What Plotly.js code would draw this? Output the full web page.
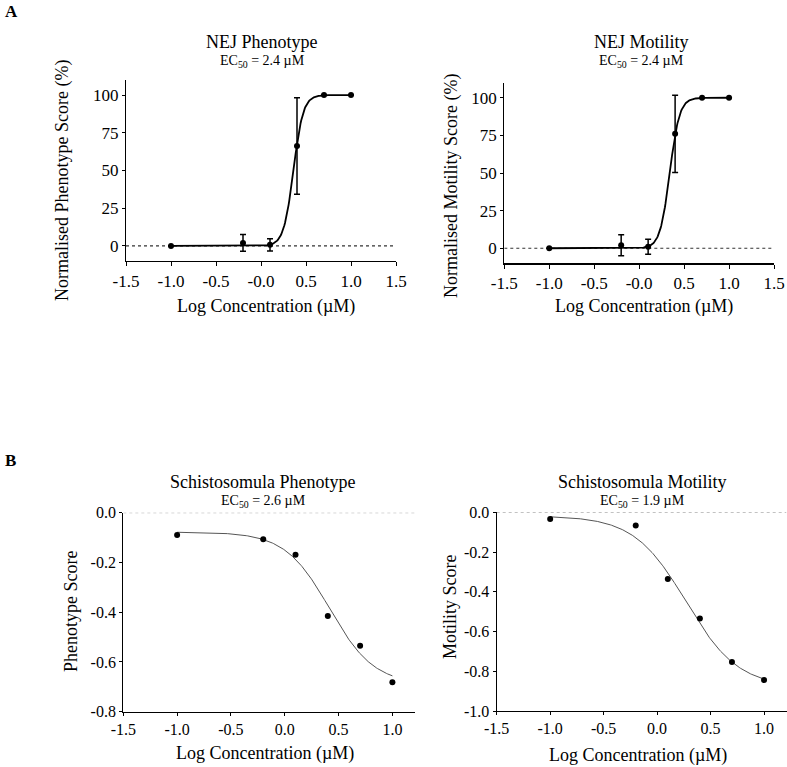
<!DOCTYPE html>
<html>
<head>
<meta charset="utf-8">
<script src="https://cdn.plot.ly/plotly-3.0.1.min.js"></script>
<style>html,body{margin:0;padding:0;background:#fff;}#chart{width:787px;height:767px;}</style>
</head>
<body>
<div id="chart"></div>
<script>
// ---------- data ----------
const logConc = [-1.0, -0.2, 0.1, 0.4, 0.7, 1.0];

const nejPhenotype    = [0, 2.0, 0.7, 66.3, 100, 100];
const nejPhenotypeErr = [0, 5.5, 4.0, 32.0, 0, 0];
const nejMotility     = [0, 2.0, 1.0, 76.0, 100, 100];
const nejMotilityErr  = [0, 7.0, 5.0, 25.6, 0, 0];

const schPhenotype = [-0.090, -0.107, -0.169, -0.415, -0.535, -0.682];
const schMotility  = [-0.034, -0.067, -0.336, -0.535, -0.753, -0.844];

// fitted dose-response (4PL) parameters: value at low dose, value at high dose, logEC50, Hill slope
const nejPhenotypeFit = {low: 0, high: 100, logEC50: 0.36, hill: 8};
const nejMotilityFit  = {low: 0, high: 100, logEC50: 0.34, hill: 8};
const schPhenotypeFit = {low: -0.078, high: -0.69, logEC50: 0.415, hill: 2.1};
const schMotilityFit  = {low: -0.018, high: -0.88, logEC50: 0.27, hill: 1.78};

const xTicksA = [-1.5, -1.0, -0.5, 0, 0.5, 1.0, 1.5];
const xTickTextA = ['-1.5', '-1.0', '-0.5', '-0.0', '0.5', '1.0', '1.5'];
const xTicksB = [-1.5, -1.0, -0.5, 0, 0.5, 1.0];
const xTickTextB = ['-1.5', '-1.0', '-0.5', '0.0', '0.5', '1.0'];
const yTicksA = [0, 25, 50, 75, 100];
const yTicksBL = [0, -0.2, -0.4, -0.6, -0.8];
const yTickTextBL = ['0.0', '-0.2', '-0.4', '-0.6', '-0.8'];
const yTicksBR = [0, -0.2, -0.4, -0.6, -0.8, -1.0];
const yTickTextBR = ['0.0', '-0.2', '-0.4', '-0.6', '-0.8', '-1.0'];

// ---------- helpers ----------
const W = 787, H = 767;
const px = x => x / W;
const py = y => 1 - y / H;
function fitCurve(p, x0, x1, n) {
  const xs = [], ys = [];
  for (let i = 0; i <= n; i++) {
    const x = x0 + (x1 - x0) * i / n;
    xs.push(x);
    ys.push(p.low + (p.high - p.low) / (1 + Math.pow(10, (p.logEC50 - x) * p.hill)));
  }
  return {xs, ys};
}
const FONT = 'Liberation Serif';

const cA1 = fitCurve(nejPhenotypeFit, -1, 1, 300);
const cA2 = fitCurve(nejMotilityFit, -1, 1, 300);
const cB1 = fitCurve(schPhenotypeFit, -1, 1, 300);
const cB2 = fitCurve(schMotilityFit, -1, 1, 300);

const curveA = {color: '#000', width: 1.8};
const curveB = {color: '#555', width: 1};
const errStyle = {type: 'data', visible: true, color: '#000', thickness: 1.5, width: 3};

const traces = [
  {x: cA1.xs, y: cA1.ys, mode: 'lines', line: curveA, xaxis: 'x', yaxis: 'y', hoverinfo: 'skip'},
  {x: logConc, y: nejPhenotype, mode: 'markers', marker: {color: '#000', size: 6},
   error_y: Object.assign({array: nejPhenotypeErr}, errStyle), xaxis: 'x', yaxis: 'y'},
  {x: cA2.xs, y: cA2.ys, mode: 'lines', line: curveA, xaxis: 'x2', yaxis: 'y2', hoverinfo: 'skip'},
  {x: logConc, y: nejMotility, mode: 'markers', marker: {color: '#000', size: 6},
   error_y: Object.assign({array: nejMotilityErr}, errStyle), xaxis: 'x2', yaxis: 'y2'},
  {x: cB1.xs, y: cB1.ys, mode: 'lines', line: curveB, xaxis: 'x3', yaxis: 'y3', hoverinfo: 'skip'},
  {x: logConc, y: schPhenotype, mode: 'markers', marker: {color: '#000', size: 6}, xaxis: 'x3', yaxis: 'y3'},
  {x: cB2.xs, y: cB2.ys, mode: 'lines', line: curveB, xaxis: 'x4', yaxis: 'y4', hoverinfo: 'skip'},
  {x: logConc, y: schMotility, mode: 'markers', marker: {color: '#000', size: 6}, xaxis: 'x4', yaxis: 'y4'}
];

function axis(domain, anchor, range, vals, text, fs, tl) {
  return {domain: domain, anchor: anchor, range: range, autorange: false,
    tickmode: 'array', tickvals: vals, ticktext: text,
    showline: true, linecolor: '#000', linewidth: 1.2, ticks: 'outside', ticklen: tl, tickwidth: 1,
    tickcolor: '#000', showgrid: false, zeroline: false, mirror: false,
    tickfont: {family: FONT, size: fs, color: '#000'}};
}

function ann(text, x, y, size, opts) {
  return Object.assign({text: text, x: px(x), y: py(y), xref: 'paper', yref: 'paper',
    xanchor: 'center', yanchor: 'middle', showarrow: false,
    font: {family: FONT, size: size, color: '#000'}}, opts || {});
}

const layout = {
  width: W, height: H,
  margin: {l: 0, r: 0, t: 0, b: 0},
  font: {family: FONT, size: 17, color: '#000'},
  paper_bgcolor: '#fff', plot_bgcolor: '#fff',
  showlegend: false,
  xaxis:  axis([px(126), px(396)], 'y',  [-1.5, 1.5], xTicksA, xTickTextA, 17, 4),
  yaxis:  axis([py(261), py(80)],  'x',  [-10, 110], yTicksA, yTicksA.map(String), 17, 3),
  xaxis2: axis([px(504.3), px(774)], 'y2', [-1.5, 1.5], xTicksA, xTickTextA, 17, 4),
  yaxis2: axis([py(263.3), py(82.7)], 'x2', [-10, 110], yTicksA, yTicksA.map(String), 17, 3),
  xaxis3: axis([px(123.3), px(415)], 'y3', [-1.5, 1.21], xTicksB, xTickTextB, 16, 3),
  yaxis3: axis([py(711.7), py(512.7)], 'x3', [-0.8, 0], yTicksBL, yTickTextBL, 16, 3),
  xaxis4: axis([px(496.7), px(786.5)], 'y4', [-1.5, 1.21], xTicksB, xTickTextB, 16, 3),
  yaxis4: axis([py(711), py(512.3)], 'x4', [-1.0, 0], yTicksBR, yTickTextBR, 16, 3),
  shapes: [
    {type: 'line', xref: 'x', yref: 'y', x0: -1.5, x1: 1.5, y0: 0, y1: 0, layer: 'below',
     line: {color: '#333', width: 1.2, dash: 'dot'}},
    {type: 'line', xref: 'x2', yref: 'y2', x0: -1.5, x1: 1.5, y0: 0, y1: 0, layer: 'below',
     line: {color: '#333', width: 1.2, dash: 'dot'}},
    {type: 'line', xref: 'x3', yref: 'y3', x0: -1.5, x1: 1.21, y0: 0, y1: 0, layer: 'above',
     line: {color: '#999', width: 1, dash: 'dot'}},
    {type: 'line', xref: 'x4', yref: 'y4', x0: -1.5, x1: 1.21, y0: 0, y1: 0, layer: 'above',
     line: {color: '#999', width: 1, dash: 'dot'}}
  ],
  annotations: [
    ann('<b>A</b>', 3, 11.5, 17, {xanchor: 'left'}),
    ann('<b>B</b>', 3, 460, 17, {xanchor: 'left'}),
    ann('NEJ Phenotype', 262, 42, 18),
    ann('EC<sub>50</sub> = 2.4 µM', 262, 62, 14),
    ann('NEJ Motility', 641, 42, 18),
    ann('EC<sub>50</sub> = 2.4 µM', 641, 62, 14),
    ann('Schistosomula Phenotype', 263, 482, 18),
    ann('EC<sub>50</sub> = 2.6 µM', 263, 501, 14),
    ann('Schistosomula Motility', 642, 482, 18),
    ann('EC<sub>50</sub> = 1.9 µM', 642, 501, 14),
    ann('Normalised Phenotype Score (%)', 63, 181, 18, {textangle: -90}),
    ann('Normalised Motility Score (%)', 451, 186, 18, {textangle: -90}),
    ann('Phenotype Score', 71, 612, 18, {textangle: -90}),
    ann('Motility Score', 450, 606, 18, {textangle: -90}),
    ann('Log Concentration (µM)', 266, 306, 18),
    ann('Log Concentration (µM)', 644, 306, 18),
    ann('Log Concentration (µM)', 264.5, 753, 18),
    ann('Log Concentration (µM)', 638, 755, 18)
  ]
};

Plotly.newPlot('chart', traces, layout, {displayModeBar: false, staticPlot: true});
</script>
</body>
</html>
